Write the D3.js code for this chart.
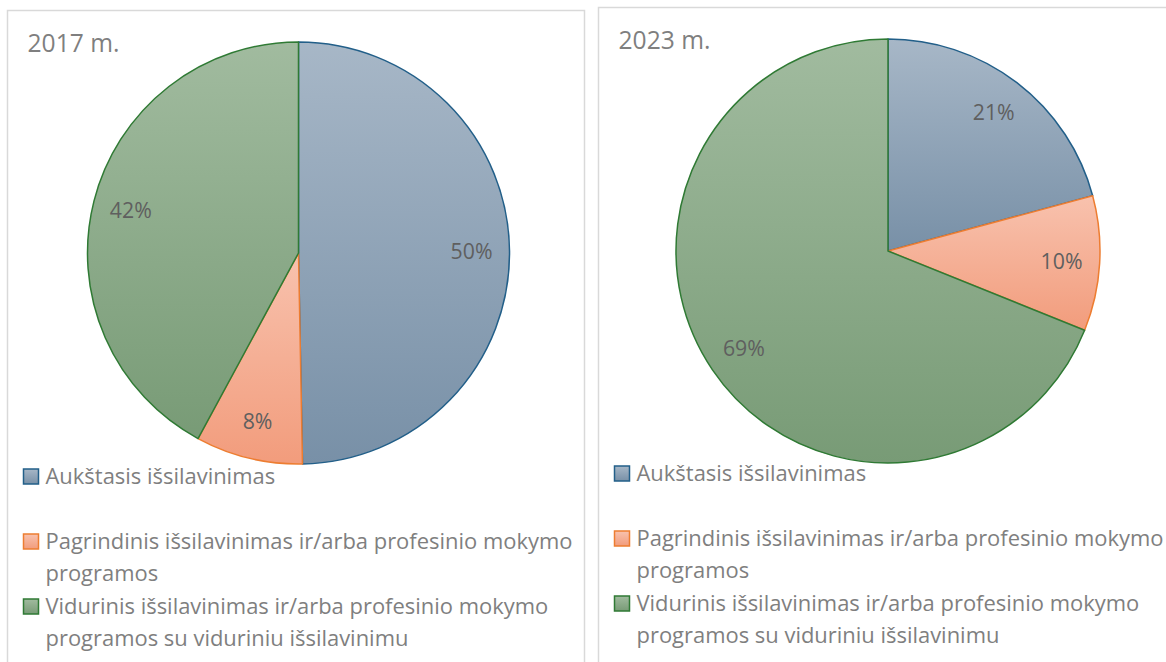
<!DOCTYPE html>
<html>
<head>
<meta charset="utf-8">
<script src="https://cdn.jsdelivr.net/npm/d3@7"></script>
<style>
  body { margin: 0; background: #fff; }
  text { font-family: "Open Sans", "Liberation Sans", sans-serif; }
</style>
</head>
<body>
<div id="chart"></div>
<script>
// Chart data
var categories = [
  "Aukštasis išsilavinimas",
  "Pagrindinis išsilavinimas ir/arba profesinio mokymo programos",
  "Vidurinis išsilavinimas ir/arba profesinio mokymo programos su viduriniu išsilavinimu"
];
var years = ["2017 m.", "2023 m."];
var values2017 = [49.7, 8.2, 42.1];
var values2023 = [20.8, 10.3, 68.9];

// Colours for each category (gradient top, gradient bottom, outline)
var colorTop = ["#a7b7c7", "#f8c2ae", "#a1bb9f"];
var colorBottom = ["#7890a7", "#f29c7c", "#789b76"];
var colorStroke = ["#225f89", "#ed7d31", "#2f7a34"];

var width = 1166;
var height = 662;

var svg = d3.select("#chart")
  .append("svg")
  .attr("width", width)
  .attr("height", height);

// Gradients for the slices and legend boxes
var defs = svg.append("defs");
categories.forEach(function (c, i) {
  var g = defs.append("linearGradient")
    .attr("id", "grad" + i)
    .attr("x1", 0).attr("y1", 0)
    .attr("x2", 0).attr("y2", 1);
  g.append("stop").attr("offset", "0%").attr("stop-color", colorTop[i]);
  g.append("stop").attr("offset", "100%").attr("stop-color", colorBottom[i]);
});

// Measure a string so text can be sized to the layout
function textWidth(str, size) {
  var t = svg.append("text").style("font-size", size + "px").text(str);
  var w = t.node().getComputedTextLength();
  t.remove();
  return w;
}

var legendSize = 20 * 527 / textWidth("Pagrindinis išsilavinimas ir/arba profesinio mokymo", 20);
var titleSize = 20 * 92 / textWidth("2017 m.", 20);
var labelSize = 20 * 42 / textWidth("50%", 20);

// Word wrap into lines no wider than maxW
function wrap(str, maxW) {
  var words = str.split(" ");
  var lines = [];
  var line = "";
  words.forEach(function (w) {
    var test = line ? line + " " + w : w;
    if (line && textWidth(test, legendSize) > maxW) {
      lines.push(line);
      line = w;
    } else {
      line = test;
    }
  });
  lines.push(line);
  return lines;
}

// Panel settings
var panels = [
  { title: years[0], values: values2017, x: 7.5, y: 10.5, w: 577, cx: 298.5, cy: 253, r: 211, titleY: 52, legendY: 476 },
  { title: years[1], values: values2023, x: 598.5, y: 7.5, w: 580, cx: 888, cy: 251, r: 212, titleY: 49, legendY: 473 }
];

var pie = d3.pie().sort(null).value(function (d) { return d; });

panels.forEach(function (p) {
  var g = svg.append("g");

  // Panel border
  g.append("rect")
    .attr("x", p.x)
    .attr("y", p.y)
    .attr("width", p.w)
    .attr("height", height)
    .attr("fill", "none")
    .attr("stroke", "#d9d9d9")
    .attr("stroke-width", 1.5);

  // Title
  g.append("text")
    .attr("x", p.x + 20)
    .attr("y", p.titleY)
    .style("font-size", titleSize + "px")
    .style("fill", "#7f7f7f")
    .text(p.title);

  var arc = d3.arc().innerRadius(0).outerRadius(p.r);
  var labelArc = d3.arc().innerRadius(p.r * 0.82).outerRadius(p.r * 0.82);
  var total = d3.sum(p.values);

  var slices = g.append("g")
    .attr("transform", "translate(" + p.cx + "," + p.cy + ")")
    .selectAll("g")
    .data(pie(p.values))
    .enter().append("g");

  slices.append("path")
    .attr("d", arc)
    .attr("fill", function (d, i) { return "url(#grad" + i + ")"; })
    .attr("stroke", function (d, i) { return colorStroke[i]; })
    .attr("stroke-width", 1.5)
    .attr("stroke-linejoin", "round");

  slices.append("text")
    .attr("transform", function (d) { return "translate(" + labelArc.centroid(d) + ")"; })
    .attr("text-anchor", "middle")
    .attr("dy", "0.35em")
    .style("font-size", labelSize + "px")
    .style("fill", "#5f5f5f")
    .text(function (d) { return Math.round(d.value / total * 100) + "%"; });

  // Legend
  var legend = g.selectAll(".legend")
    .data(categories)
    .enter().append("g")
    .attr("class", "legend")
    .attr("transform", function (d, i) { return "translate(" + (p.x + 16) + "," + (p.legendY + i * 65) + ")"; });

  legend.append("rect")
    .attr("x", 0)
    .attr("y", -7)
    .attr("width", 15)
    .attr("height", 15)
    .attr("fill", function (d, i) { return "url(#grad" + i + ")"; })
    .attr("stroke", function (d, i) { return colorStroke[i]; })
    .attr("stroke-width", 1.5);

  legend.each(function (d) {
    var lines = wrap(d, 540);
    var t = d3.select(this).append("text")
      .attr("x", 22)
      .attr("y", 0)
      .attr("dy", "0.35em")
      .style("font-size", legendSize + "px")
      .style("fill", "#7f7f7f");
    lines.forEach(function (l, k) {
      t.append("tspan")
        .attr("x", 22)
        .attr("y", k * 32)
        .attr("dy", "0.35em")
        .text(l);
    });
  });
});
</script>
</body>
</html>
